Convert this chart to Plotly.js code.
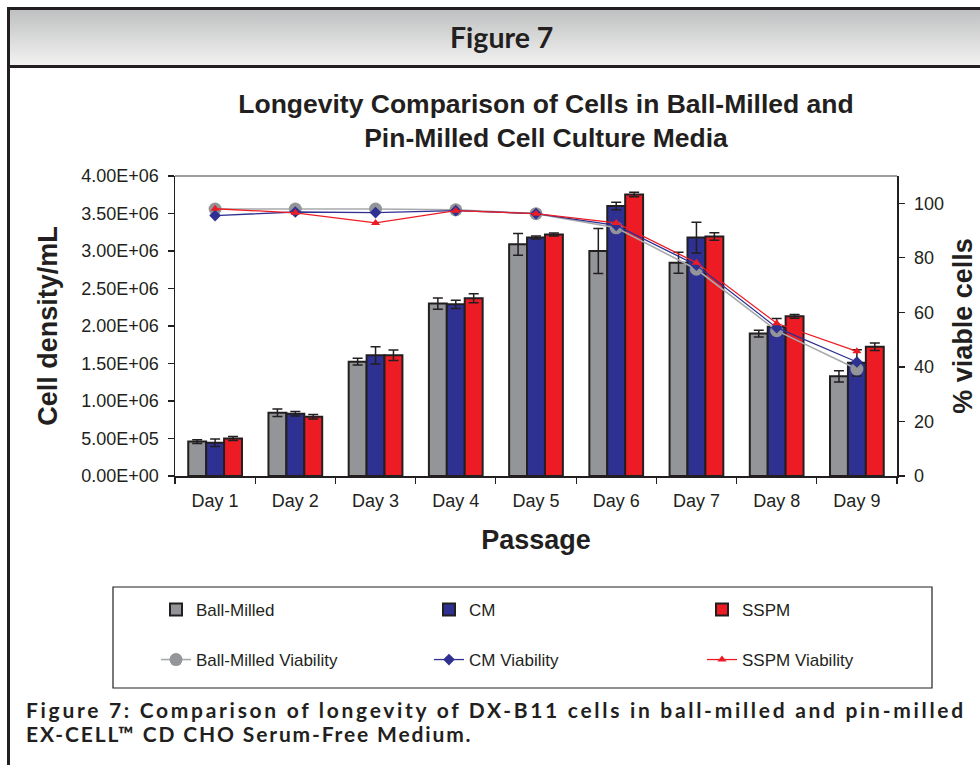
<!DOCTYPE html>
<html>
<head>
<meta charset="utf-8">
<script src="https://cdn.plot.ly/plotly-3.0.1.min.js"></script>
<style>
  html, body { margin: 0; padding: 0; background: #ffffff; }
  #wrap { position: relative; width: 980px; height: 765px; overflow: hidden; background: #ffffff; }
  #header { position: absolute; left: 7px; top: 7px; width: 1000px; height: 55px;
            border-top: 3px solid #231f20; border-left: 3px solid #231f20; border-bottom: 3px solid #231f20;
            background: linear-gradient(#bfc0c1, #f2f2f1); }
  #leftline { position: absolute; left: 7px; top: 7px; width: 3px; height: 760px; background: #231f20; }
  #chart { position: absolute; left: 0; top: 0; width: 980px; height: 765px; }
</style>
</head>
<body>
<div id="wrap">
  <div id="header"></div>
  <div id="leftline"></div>
  <div id="chart"></div>
</div>
<script>
// ---- data ----
const days = ['Day 1', 'Day 2', 'Day 3', 'Day 4', 'Day 5', 'Day 6', 'Day 7', 'Day 8', 'Day 9'];

const ballMilled    = [0.46e6, 0.845e6, 1.525e6, 2.30e6, 3.09e6, 3.00e6, 2.845e6, 1.90e6, 1.33e6];
const ballMilledErr = [0.025e6, 0.05e6, 0.045e6, 0.075e6, 0.145e6, 0.30e6, 0.14e6, 0.045e6, 0.075e6];
const cm            = [0.445e6, 0.83e6, 1.61e6, 2.29e6, 3.18e6, 3.60e6, 3.18e6, 1.99e6, 1.51e6];
const cmErr         = [0.05e6, 0.03e6, 0.115e6, 0.055e6, 0.02e6, 0.05e6, 0.205e6, 0.11e6, 0.175e6];
const sspm          = [0.50e6, 0.79e6, 1.61e6, 2.37e6, 3.22e6, 3.755e6, 3.195e6, 2.13e6, 1.725e6];
const sspmErr       = [0.027e6, 0.03e6, 0.07e6, 0.06e6, 0.02e6, 0.03e6, 0.05e6, 0.025e6, 0.05e6];

const ballMilledViability = [97.9, 97.9, 97.9, 97.6, 96.2, 91.0, 75.8, 53.3, 39.2];
const cmViability         = [95.5, 96.8, 96.6, 97.3, 96.2, 91.9, 77.3, 54.4, 41.8];
const sspmViability       = [98.0, 96.5, 92.8, 97.3, 96.2, 92.8, 78.2, 56.0, 45.7];

const densityTickVals = [0, 0.5e6, 1.0e6, 1.5e6, 2.0e6, 2.5e6, 3.0e6, 3.5e6, 4.0e6];
const densityTickText = ['0.00E+00', '5.00E+05', '1.00E+06', '1.50E+06', '2.00E+06', '2.50E+06', '3.00E+06', '3.50E+06', '4.00E+06'];
const viabilityTickVals = [0, 20, 40, 60, 80, 100];

// ---- styles ----
const INK = '#231f20';
const GRAY = '#939598', BLUE = '#2e3192', RED = '#ed1c24';
const ARIAL = 'Liberation Sans, Arial, sans-serif';
const HUMAN = 'Lato, Open Sans, sans-serif';

function barTrace(name, y, err, color) {
  return {
    type: 'bar', name: name, x: days, y: y, yaxis: 'y', xaxis: 'x',
    marker: { color: color, line: { color: INK, width: 2 } },
    error_y: { type: 'data', array: err, visible: true, color: INK, thickness: 1.5, width: 5 },
    legend: 'legend'
  };
}
function lineTrace(name, y, color, lw, symbol, size, mcolor) {
  return {
    type: 'scatter', mode: 'lines+markers', name: name, x: days, y: y, yaxis: 'y2', xaxis: 'x',
    line: { color: color, width: lw },
    marker: { symbol: symbol, size: size, color: mcolor },
    legend: 'legend2'
  };
}

const traces = [
  barTrace('Ball-Milled', ballMilled, ballMilledErr, GRAY),
  barTrace('CM', cm, cmErr, BLUE),
  barTrace('SSPM', sspm, sspmErr, RED),
  lineTrace('Ball-Milled Viability', ballMilledViability, '#a7a9ac', 1.6, 'circle', 13, GRAY),
  lineTrace('CM Viability', cmViability, BLUE, 1.3, 'diamond', 9, BLUE),
  lineTrace('SSPM Viability', sspmViability, RED, 1.3, 'triangle-up', 8, RED)
];

// paper coordinates helpers (plot area: x 175..897, y 176..476)
const px = v => (v - 175) / 722;
const py = v => (476 - v) / 300;

const legendCommon = {
  orientation: 'h', xref: 'paper', yref: 'paper', xanchor: 'left', yanchor: 'middle',
  entrywidth: 228, entrywidthmode: 'pixels', bgcolor: 'rgba(0,0,0,0)', borderwidth: 0,
  font: { family: ARIAL, size: 17, color: INK }, traceorder: 'normal'
};

const layout = {
  width: 980, height: 765,
  margin: { l: 175, r: 83, t: 176, b: 289, autoexpand: false },
  paper_bgcolor: 'rgba(0,0,0,0)', plot_bgcolor: '#ffffff',
  font: { family: ARIAL, color: INK },
  title: {
    text: 'Longevity Comparison of Cells in Ball-Milled and<br>Pin-Milled Cell Culture Media',
    xref: 'container', yref: 'container', x: 546 / 980, y: 1 - 113 / 765,
    xanchor: 'center', yanchor: 'middle',
    font: { family: ARIAL, size: 26.5, weight: 700, color: INK }
  },
  barmode: 'group', bargap: 0.33, bargroupgap: 0,
  xaxis: {
    type: 'category', categoryarray: days, range: [-0.5, 8.5],
    showline: true, linecolor: INK, linewidth: 1.5,
    ticks: 'outside', tickson: 'boundaries', ticklen: 6, tickwidth: 1.2, tickcolor: INK,
    ticklabelstandoff: 8,
    tickfont: { family: ARIAL, size: 18, color: INK },
    title: { text: 'Passage', standoff: 20, font: { family: ARIAL, size: 27, weight: 700, color: INK } },
    showgrid: false, zeroline: false, fixedrange: true
  },
  xaxis2: {
    overlaying: 'x', anchor: 'y', side: 'bottom', type: 'linear', range: [-0.5, 8.5],
    tick0: -0.5, dtick: 1, ticks: 'inside', ticklen: 6, tickwidth: 1.2, tickcolor: INK,
    showticklabels: false, showline: false, showgrid: false, zeroline: false
  },
  yaxis: {
    range: [0, 4.0e6], tickvals: densityTickVals, ticktext: densityTickText,
    showline: true, linecolor: INK, linewidth: 1.5,
    ticks: 'outside', ticklen: 6, tickwidth: 1.2, tickcolor: INK, ticklabelstandoff: 5,
    tickfont: { family: ARIAL, size: 18, color: INK },
    title: { text: 'Cell density/mL', standoff: 16, font: { family: ARIAL, size: 27, weight: 700, color: INK } },
    showgrid: false, zeroline: false
  },
  yaxis2: {
    overlaying: 'y', side: 'right', anchor: 'x', range: [0, 110], tickvals: viabilityTickVals,
    showline: true, linecolor: INK, linewidth: 1.5,
    ticks: 'outside', ticklen: 6, tickwidth: 1.2, tickcolor: INK, ticklabelstandoff: 6,
    tickfont: { family: ARIAL, size: 18, color: INK },
    title: { text: '% viable cells', standoff: 10, font: { family: ARIAL, size: 27, weight: 700, color: INK } },
    showgrid: false, zeroline: false
  },
  yaxis3: {
    overlaying: 'y', side: 'left', anchor: 'x', range: [0, 4.0e6], tickvals: densityTickVals,
    ticks: 'inside', ticklen: 6, tickwidth: 1.2, tickcolor: INK,
    showticklabels: false, showline: false, showgrid: false, zeroline: false
  },
  yaxis4: {
    overlaying: 'y', side: 'right', anchor: 'x', range: [0, 110], tickvals: viabilityTickVals,
    ticks: 'inside', ticklen: 6, tickwidth: 1.2, tickcolor: INK,
    showticklabels: false, showline: false, showgrid: false, zeroline: false
  },
  legend: Object.assign({}, legendCommon, { x: px(156), y: py(610) }),
  legend2: Object.assign({}, legendCommon, { x: px(156), y: py(660) }),
  shapes: [
    // top border of plot area
    { type: 'line', xref: 'paper', yref: 'paper', x0: 0, x1: 1, y0: 1, y1: 1, line: { color: '#7d7d7d', width: 1.5 } },
    // legend frame
    { type: 'rect', xref: 'paper', yref: 'paper',
      x0: px(113), x1: px(932), y0: py(688), y1: py(587),
      line: { color: INK, width: 1.2 }, fillcolor: 'rgba(0,0,0,0)' }
  ],
  annotations: [
    { text: 'Figure 7', xref: 'paper', yref: 'paper', x: px(501), y: py(37),
      xanchor: 'center', yanchor: 'middle', showarrow: false,
      font: { family: HUMAN, size: 28.5, weight: 700, color: INK } },
    { text: '<span style="letter-spacing:2.7px">Figure 7: Comparison of longevity of DX-B11 cells in ball-milled and pin-milled</span>',
      xref: 'paper', yref: 'paper', x: px(24), y: py(709),
      xanchor: 'left', yanchor: 'middle', showarrow: false,
      font: { family: HUMAN, size: 21, weight: 700, color: INK } },
    { text: '<span style="letter-spacing:1.85px">EX-CELL™ CD CHO Serum-Free Medium.</span>',
      xref: 'paper', yref: 'paper', x: px(24), y: py(733),
      xanchor: 'left', yanchor: 'middle', showarrow: false,
      font: { family: HUMAN, size: 21, weight: 700, color: INK } }
  ]
};

Plotly.newPlot('chart', traces, layout, { displayModeBar: false, staticPlot: true });
</script>
</body>
</html>
